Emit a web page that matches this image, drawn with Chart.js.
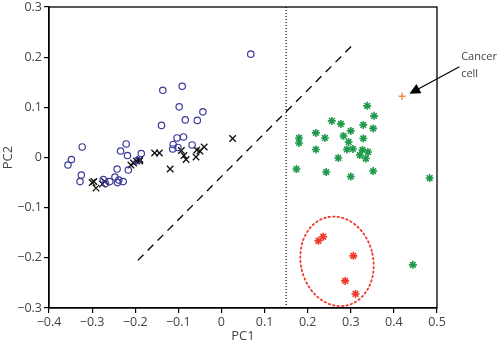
<!DOCTYPE html>
<html>
<head>
<meta charset="utf-8">
<script src="https://cdn.jsdelivr.net/npm/chart.js@4"></script>
<style>
  html, body { margin: 0; padding: 0; background: #fff; }
  #wrap { width: 500px; height: 344px; }
</style>
</head>
<body>
<div id="wrap"><canvas id="pca"></canvas></div>
<script>
// PC1 / PC2 scores
const normalA = [
  [0.068, 0.206], [-0.136, 0.134], [-0.091, 0.142], [-0.098, 0.101], [-0.043, 0.091],
  [-0.084, 0.075], [-0.056, 0.074], [-0.139, 0.064], [-0.103, 0.039], [-0.088, 0.041],
  [-0.112, 0.026], [-0.113, 0.017], [-0.101, 0.020], [-0.068, 0.025], [-0.323, 0.021],
  [-0.348, -0.004], [-0.356, -0.015], [-0.325, -0.035], [-0.328, -0.048], [-0.221, 0.027],
  [-0.234, 0.013], [-0.218, 0.004], [-0.186, 0.008], [-0.242, -0.023], [-0.247, -0.039],
  [-0.238, -0.045], [-0.241, -0.050], [-0.228, -0.048], [-0.274, -0.044], [-0.259, -0.048],
  [-0.269, -0.052], [-0.216, -0.025], [-0.195, -0.006]
];
const normalB = [
  [-0.300, -0.050], [-0.291, -0.061], [-0.276, -0.053], [-0.271, -0.048], [-0.296, -0.048],
  [-0.210, -0.015], [-0.204, -0.011], [-0.197, -0.007], [-0.190, -0.007], [-0.189, -0.004],
  [-0.155, 0.009], [-0.144, 0.009], [-0.119, -0.023], [-0.093, 0.014], [-0.087, 0.004],
  [-0.082, -0.004], [-0.059, 0.001], [-0.057, 0.015], [-0.050, 0.013], [-0.040, 0.021],
  [0.026, 0.038]
];
const tumourA = [
  [0.338, 0.103], [0.354, 0.083], [0.256, 0.073], [0.277, 0.067], [0.329, 0.065],
  [0.352, 0.058], [0.300, 0.053], [0.219, 0.049], [0.180, 0.039], [0.180, 0.029],
  [0.240, 0.039], [0.283, 0.043], [0.329, 0.038], [0.295, 0.031], [0.219, 0.016],
  [0.291, 0.016], [0.305, 0.017], [0.327, 0.015], [0.340, 0.011], [0.321, 0.005],
  [0.335, -0.002], [0.271, -0.001], [0.174, -0.023], [0.243, -0.029], [0.352, -0.027],
  [0.300, -0.038], [0.483, -0.041], [0.444, -0.214]
];
const tumourB = [
  [0.236, -0.158], [0.225, -0.166], [0.306, -0.196], [0.287, -0.246], [0.311, -0.272]
];
const cancerCell = [[0.419, 0.122]];

const separator = [[-0.194, -0.205], [0.3075, 0.227]];
const cutoff = [[0.15, -0.3], [0.15, 0.3]];

const xTicks = [-0.4, -0.3, -0.2, -0.1, 0, 0.1, 0.2, 0.3, 0.4, 0.5];
const yTicks = [-0.3, -0.2, -0.1, 0, 0.1, 0.2, 0.3];

const toXY = arr => arr.map(p => ({ x: p[0], y: p[1] }));
const fmt = v => {
  const r = Math.round(v * 10) / 10;
  return r === 0 ? "0" : String(r).replace("-", "\u2212");
};

const FONT = "'Open Sans', sans-serif";
const TEXT = "#444";

// box, ellipse and the "Cancer cell" arrow
const extras = {
  id: "extras",
  afterDatasetsDraw(chart) {
    const { ctx, chartArea: a, scales: { x, y } } = chart;
    ctx.save();

    // red dotted ellipse round the second tumour group
    const cx = x.getPixelForValue(0.268), cy = y.getPixelForValue(-0.207);
    const rx = x.getPixelForValue(0.268 + 0.084) - cx;
    const ry = cy - y.getPixelForValue(-0.207 + 0.09);
    ctx.beginPath();
    ctx.ellipse(cx, cy, rx, ry, -0.22, 0, Math.PI * 2);
    ctx.strokeStyle = "#ee3a2a";
    ctx.lineWidth = 1.8;
    ctx.setLineDash([1.5, 3]);
    ctx.lineCap = "round";
    ctx.stroke();
    ctx.setLineDash([]);
    ctx.lineCap = "butt";

    // frame
    ctx.strokeStyle = "#000";
    ctx.lineWidth = 1.3;
    ctx.strokeRect(a.left, a.top, a.right - a.left, a.bottom - a.top);

    // arrow
    const tx = x.getPixelForValue(0.436), ty = y.getPixelForValue(0.127);
    const sx = x.getPixelForValue(0.552), sy = y.getPixelForValue(0.181);
    const ang = Math.atan2(ty - sy, tx - sx);
    ctx.beginPath();
    ctx.moveTo(sx, sy);
    ctx.lineTo(tx - Math.cos(ang) * 8, ty - Math.sin(ang) * 8);
    ctx.lineWidth = 1.2;
    ctx.stroke();
    ctx.beginPath();
    ctx.moveTo(tx, ty);
    ctx.lineTo(tx - Math.cos(ang - 0.45) * 12, ty - Math.sin(ang - 0.45) * 12);
    ctx.lineTo(tx - Math.cos(ang + 0.45) * 12, ty - Math.sin(ang + 0.45) * 12);
    ctx.closePath();
    ctx.fillStyle = "#000";
    ctx.fill();

    ctx.font = "11px " + FONT;
    ctx.fillStyle = TEXT;
    ctx.textAlign = "left";
    ctx.textBaseline = "middle";
    ctx.fillText("Cancer", x.getPixelForValue(0.556), y.getPixelForValue(0.201));
    ctx.fillText("cell", x.getPixelForValue(0.556), y.getPixelForValue(0.167));
    ctx.restore();
  }
};

const axisBase = {
  type: "linear",
  grid: { display: true, drawOnChartArea: false, drawTicks: true, tickLength: 5, color: "#000", lineWidth: 1.2 },
  border: { display: true, color: "#000", width: 1.3 },
  ticks: { color: TEXT, font: { family: FONT, size: 12.5 }, callback: v => fmt(v) }
};

new Chart(document.getElementById("pca"), {
  type: "scatter",
  data: {
    datasets: [
      { data: toXY(normalA), pointStyle: "circle", radius: 3.2, borderColor: "#3b3b9a",
        backgroundColor: "rgba(0,0,0,0)", borderWidth: 1.2 },
      { data: toXY(normalB), pointStyle: "crossRot", radius: 4.6, borderColor: "#111", borderWidth: 1.3 },
      { data: toXY(tumourA), pointStyle: "star", radius: 4, borderColor: "#1f9a4c", borderWidth: 1.6 },
      { data: toXY(tumourB), pointStyle: "star", radius: 4, borderColor: "#ee3a2a", borderWidth: 1.6 },
      { data: toXY(cancerCell), pointStyle: "cross", radius: 3.5, borderColor: "#f08a4a", borderWidth: 1.5 },
      { type: "line", data: toXY(separator), borderColor: "#000", borderWidth: 1.3,
        borderDash: [8, 6], pointRadius: 0, fill: false },
      { type: "line", data: toXY(cutoff), borderColor: "#000", borderWidth: 1.2,
        borderDash: [1, 2], pointRadius: 0, fill: false }
    ]
  },
  options: {
    responsive: true,
    maintainAspectRatio: false,
    animation: false,
    layout: { padding: { top: 5, right: 63, left: 0, bottom: 0 } },
    plugins: { legend: { display: false }, tooltip: { enabled: false } },
    scales: {
      x: {
        ...axisBase,
        min: -0.4, max: 0.5,
        afterBuildTicks: s => { s.ticks = xTicks.map(v => ({ value: v })); },
        afterFit: s => { s.height = 36; },
        ticks: { ...axisBase.ticks, padding: 2, maxRotation: 0 },
        title: { display: true, text: "PC1", color: TEXT, font: { family: FONT, size: 13 }, padding: 0 }
      },
      y: {
        ...axisBase,
        min: -0.3, max: 0.3,
        afterBuildTicks: s => { s.ticks = yTicks.map(v => ({ value: v })); },
        afterFit: s => { s.width = 49; },
        ticks: { ...axisBase.ticks, padding: 2, font: { family: FONT, size: 12.5, lineHeight: 0.8 } },
        title: { display: true, text: "PC2", color: TEXT, font: { family: FONT, size: 13 }, padding: 0 }
      }
    }
  },
  plugins: [extras]
});
</script>
</body>
</html>
